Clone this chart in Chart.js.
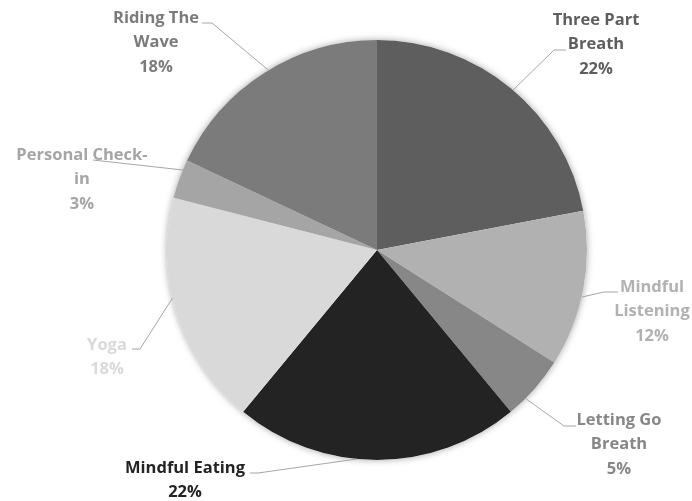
<!DOCTYPE html>
<html>
<head>
<meta charset="utf-8">
<script src="https://cdn.jsdelivr.net/npm/chart.js@4.4.0/dist/chart.umd.min.js"></script>
<style>
  html, body { margin: 0; padding: 0; background: #fff; }
  #wrap { width: 692px; height: 501px; }
</style>
</head>
<body>
<div id="wrap"><canvas id="pieChart" width="692" height="501"></canvas></div>
<script>
const categories = ['Three Part Breath', 'Mindful Listening', 'Letting Go Breath', 'Mindful Eating', 'Yoga', 'Personal Check-in', 'Riding The Wave'];
const shares = [22, 12, 5, 22, 18, 3, 18];
const sliceColors = ['#5e5e5e', '#b1b1b1', '#878787', '#232323', '#d9d9d9', '#a5a5a5', '#7b7b7b'];

// label placement (Excel-style callouts): text centre, first line y, leader end at text, elbow, anchor fraction along arc
const labelLayout = [
  { tx: 596, ty: 20, ex: 566, ey: 50, bx: 554, by: 50, frac: 0.51, wrap: 100 },
  { tx: 652, ty: 287, ex: 618, ey: 292, bx: 604, by: 292, frac: 0.55, wrap: 80 },
  { tx: 619, ty: 420, ex: 576, ey: 426, bx: 564, by: 426, frac: 0.7, wrap: 100 },
  { tx: 185, ty: 468, ex: 250, ey: 473, bx: 258, by: 473, frac: 0.57, wrap: 150 },
  { tx: 107, ty: 345, ex: 132, ey: 349, bx: 140, by: 349, frac: 0.574, wrap: 100 },
  { tx: 82, ty: 155, ex: 93, ey: 160, bx: 93, by: 160, frac: 0.74, wrap: 140 },
  { tx: 156, ty: 18, ex: 202, ey: 23, bx: 212, by: 23, frac: 0.52, wrap: 100 }
];

const labelFont = '700 16.5px "Open Sans", "Noto Sans", sans-serif';
const lineHeight = 24.5;

function wrapText(ctx, text, maxWidth) {
  // split on spaces, keep hyphen breaks too
  const tokens = text.match(/[^\s-]+-?|\s+/g) || [];
  const lines = [];
  let cur = '';
  tokens.forEach(tok => {
    if (/^\s+$/.test(tok)) { cur += ' '; return; }
    const test = cur + tok;
    if (cur.trim() && ctx.measureText(test.trim()).width > maxWidth) {
      lines.push(cur.trim());
      cur = tok;
    } else {
      cur = test;
    }
  });
  if (cur.trim()) lines.push(cur.trim());
  return lines;
}

const pieShadow = {
  id: 'pieShadow',
  beforeDatasetsDraw(chart) {
    const arc = chart.getDatasetMeta(0).data[0];
    if (!arc) return;
    const ctx = chart.ctx;
    ctx.save();
    ctx.shadowColor = 'rgba(0,0,0,0.35)';
    ctx.shadowBlur = 7;
    ctx.fillStyle = '#ffffff';
    ctx.beginPath();
    ctx.arc(arc.x, arc.y, arc.outerRadius, 0, Math.PI * 2);
    ctx.fill();
    ctx.restore();
  }
};

const calloutLabels = {
  id: 'calloutLabels',
  afterDatasetsDraw(chart) {
    const ctx = chart.ctx;
    const meta = chart.getDatasetMeta(0);
    ctx.save();
    ctx.font = labelFont;
    meta.data.forEach((arc, i) => {
      const lay = labelLayout[i];
      const a = arc.startAngle + lay.frac * (arc.endAngle - arc.startAngle);
      const ax = arc.x + arc.outerRadius * Math.cos(a);
      const ay = arc.y + arc.outerRadius * Math.sin(a);

      ctx.strokeStyle = '#a6a6a6';
      ctx.lineWidth = 1;
      ctx.beginPath();
      ctx.moveTo(lay.ex, lay.ey);
      ctx.lineTo(lay.bx, lay.by);
      ctx.lineTo(ax, ay);
      ctx.stroke();

      const lines = wrapText(ctx, categories[i], lay.wrap);
      lines.push(shares[i] + '%');
      ctx.fillStyle = sliceColors[i];
      ctx.textAlign = 'center';
      ctx.textBaseline = 'middle';
      lines.forEach((ln, k) => {
        ctx.fillText(ln, lay.tx, lay.ty + k * lineHeight);
      });
    });
    ctx.restore();
  }
};

const ctx = document.getElementById('pieChart').getContext('2d');
new Chart(ctx, {
  type: 'pie',
  data: {
    labels: categories,
    datasets: [{
      data: shares,
      backgroundColor: sliceColors,
      borderWidth: 0
    }]
  },
  options: {
    responsive: false,
    animation: false,
    layout: { padding: { top: 40, bottom: 41, left: 167, right: 105 } },
    plugins: {
      legend: { display: false },
      tooltip: { enabled: false }
    }
  },
  plugins: [pieShadow, calloutLabels]
});
</script>
</body>
</html>
